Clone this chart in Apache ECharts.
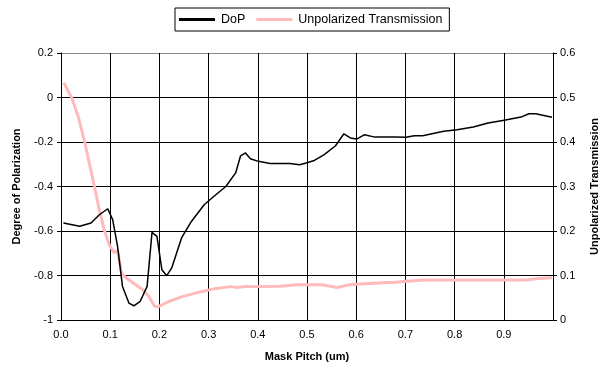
<!DOCTYPE html>
<html>
<head>
<meta charset="utf-8">
<script src="https://cdn.jsdelivr.net/npm/echarts@6/dist/echarts.min.js"></script>
<style>html,body{margin:0;padding:0;background:#fff}#c{width:608px;height:370px}</style>
</head>
<body>
<div id="c"></div>
<script>
const dopPitch = [0.005,0.038,0.061,0.078,0.095,0.105,0.115,0.125,0.138,0.148,0.161,0.175,0.185,0.195,0.205,0.215,0.225,0.245,0.265,0.291,0.311,0.335,0.355,0.365,0.375,0.385,0.401,0.425,0.465,0.485,0.498,0.515,0.535,0.558,0.575,0.588,0.601,0.617,0.638,0.678,0.701,0.718,0.735,0.778,0.805,0.838,0.868,0.898,0.935,0.951,0.965,0.998];
const dopValues = [-0.564,-0.579,-0.564,-0.527,-0.50,-0.549,-0.669,-0.849,-0.924,-0.936,-0.916,-0.849,-0.606,-0.624,-0.774,-0.801,-0.766,-0.631,-0.557,-0.482,-0.444,-0.40,-0.339,-0.262,-0.249,-0.275,-0.287,-0.297,-0.297,-0.302,-0.294,-0.283,-0.257,-0.217,-0.163,-0.182,-0.187,-0.167,-0.178,-0.178,-0.179,-0.172,-0.172,-0.152,-0.145,-0.133,-0.115,-0.103,-0.088,-0.073,-0.073,-0.089];
const transPitch = [0.006,0.015,0.021,0.035,0.048,0.065,0.078,0.088,0.098,0.108,0.115,0.123,0.131,0.148,0.165,0.178,0.19,0.198,0.218,0.245,0.278,0.311,0.345,0.358,0.378,0.385,0.445,0.478,0.531,0.561,0.585,0.625,0.678,0.738,0.811,0.945,0.971,0.998];
const transValues = [0.533,0.513,0.502,0.457,0.401,0.315,0.247,0.202,0.169,0.151,0.156,0.105,0.096,0.082,0.069,0.054,0.031,0.030,0.041,0.052,0.062,0.070,0.075,0.073,0.076,0.075,0.076,0.079,0.079,0.073,0.079,0.082,0.085,0.090,0.090,0.090,0.093,0.095];
const seriesNames = ['DoP','Unpolarized Transmission'];
const xTitle = 'Mask Pitch (um)';
const yLeftTitle = 'Degree of Polarization';
const yRightTitle = 'Unpolarized Transmission';

const chart = echarts.init(document.getElementById('c'), null, {renderer:'canvas'});
const font = 'Liberation Sans, Arial, sans-serif';
chart.setOption({
  animation:false,
  backgroundColor:'#fff',
  textStyle:{fontFamily:font},
  legend:{
    top:8, left:175, itemGap:11, itemWidth:36, itemHeight:3,
    padding:[5,7,5,4],
    borderColor:'#000', borderWidth:1, borderRadius:0,
    textStyle:{fontSize:12.5, color:'#000', fontFamily:font, padding:[0,0,0,1]},
    icon:'rect',
    data:seriesNames
  },
  grid:{left:61, right:46, top:53, bottom:50},
  xAxis:{
    type:'value', min:0, max:1, interval:0.1,
    name:xTitle, nameLocation:'middle', nameGap:31,
    nameTextStyle:{fontWeight:'bold', fontSize:11, color:'#000', fontFamily:font},
    axisLine:{lineStyle:{color:'#000'}},
    axisTick:{show:true, length:4, lineStyle:{color:'#000'}},
    axisLabel:{color:'#000', fontSize:11, margin:9, showMaxLabel:false, formatter:v=>v.toFixed(1)},
    splitLine:{show:true, lineStyle:{color:'#000', width:1}}
  },
  yAxis:[{
    type:'value', min:-1, max:0.2, interval:0.2,
    name:yLeftTitle, nameLocation:'middle', nameGap:39,
    nameTextStyle:{fontWeight:'bold', fontSize:11, color:'#000', fontFamily:font},
    axisLine:{show:true, lineStyle:{color:'#000'}},
    axisTick:{show:true, length:4, lineStyle:{color:'#000'}},
    axisLabel:{color:'#000', fontSize:11, margin:8, formatter:v=>String(Math.round(v*10)/10)},
    splitLine:{show:true, lineStyle:{color:['#000','#000','#000','#000','#000','#888','#888'], width:1}}
  },{
    type:'value', min:0, max:0.6, interval:0.1, position:'right',
    name:yRightTitle, nameLocation:'middle', nameGap:36, nameRotate:90,
    nameTextStyle:{fontWeight:'bold', fontSize:11, color:'#000', fontFamily:font},
    axisLine:{show:true, lineStyle:{color:'#000'}},
    axisTick:{show:true, length:4, lineStyle:{color:'#000'}},
    axisLabel:{color:'#000', fontSize:11, margin:7, formatter:v=>String(Math.round(v*10)/10)},
    splitLine:{show:false}
  }],
  series:[{
    name:seriesNames[0], type:'line', yAxisIndex:0, showSymbol:false, symbol:'none',
    lineStyle:{color:'#000', width:1.5}, itemStyle:{color:'#000'},
    data:dopPitch.map((p,i)=>[p,dopValues[i]]), z:3
  },{
    name:seriesNames[1], type:'line', yAxisIndex:1, showSymbol:false, symbol:'none',
    lineStyle:{color:'#ffbaba', width:3}, itemStyle:{color:'#ffbaba'},
    data:transPitch.map((p,i)=>[p,transValues[i]]), z:2
  }]
});
</script>
</body>
</html>
